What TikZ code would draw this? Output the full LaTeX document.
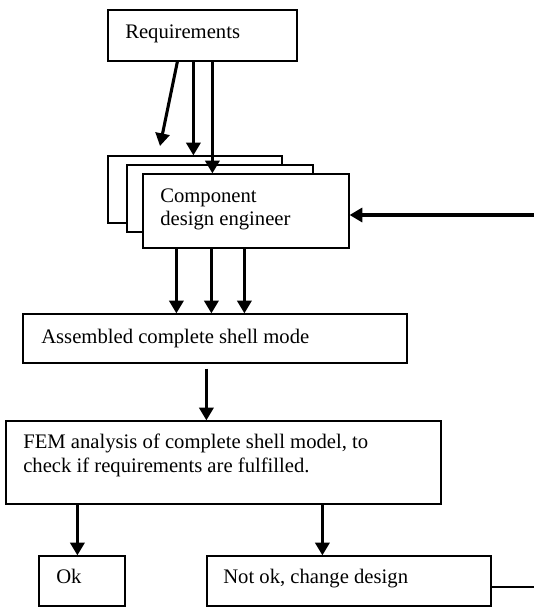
\documentclass[tikz,border=0pt]{standalone}
\usepackage{fontspec}
\setmainfont{Liberation Serif}
\usetikzlibrary{arrows.meta,fit,calc}
\tikzset{
  box/.style={draw=black, line width=0.9pt, fill=white, inner sep=0pt},
  txt/.style={anchor=base west, inner sep=0pt, font=\fontsize{15.5pt}{17.5pt}\selectfont},
  arr/.style={line width=2.3pt, -{Triangle[width=10.5pt,length=9.5pt]}},
  thin/.style={line width=0.9pt}
}
\begin{document}
\begin{tikzpicture}[x=0.75pt,y=-0.75pt]
\useasboundingbox (0,0) rectangle (534,608);

% top box
\node[box, fit={(108,10) (297,61)}] (req) {};
\node[txt] (reqt) at (125,38) {Requirements};

% stacked component boxes
\node[box, fit={(108,156) (282,223)}] (cde1) {};
\node[box, fit={(127,165) (313,232)}] (cde2) {};
\node[box, fit={(143,174) (349,248)}] (cde3) {};
\node[txt] (cdet1) at (160,202) {Component};
\node[txt] (cdet2) at (160,225) {design engineer};

% assembled model
\node[box, fit={(23,314) (407,363)}] (asm) {};
\node[txt] (asmt) at (41,343) {Assembled complete shell mode};

% FEM analysis
\node[box, fit={(6,421) (441,504)}] (fem) {};
\node[txt] (femt1) at (23,448) {FEM analysis of complete shell model, to};
\node[txt] (femt2) at (23,472) {check if requirements are fulfilled.};

% outcomes
\node[box, fit={(39,556) (125,606)}] (ok) {};
\node[txt] (okt) at (56,583) {Ok};
\node[box, fit={(207,556) (491,606)}] (nok) {};
\node[txt] (nokt) at (223,583) {Not ok, change design};

% free ends
\coordinate (diagend) at (160,146);
\coordinate (fbin) at (534,215);
\coordinate (fbout) at (534,587);

% requirements to component engineers
\draw[arr] ($(req.south west)+(70,0)$) -- (diagend);
\draw[arr] ($(req.south west)+(86,0)$) -- ($(cde1.north west)+(86,0)$);
\draw[arr] ($(req.south west)+(105,0)$) -- ($(cde3.north west)+(70,0)$);

% feedback into the component engineer
\draw[arr] (fbin) -- (fbin -| cde3.east);

% engineers to assembled model
\draw[arr] ($(cde3.south west)+(34,0)$) -- ($(asm.north west)+(154,0)$);
\draw[arr] ($(cde3.south west)+(69,0)$) -- ($(asm.north west)+(189,0)$);
\draw[arr] ($(cde3.south west)+(102,0)$) -- ($(asm.north west)+(222,0)$);

% assembled model to FEM analysis
\draw[arr] ($(asm.south west)+(184,5)$) -- ($(fem.north west)+(201,0)$);

% FEM analysis to outcomes
\draw[arr] ($(fem.south west)+(72,0)$) -- ($(ok.north west)+(39,0)$);
\draw[arr] ($(fem.south west)+(317,0)$) -- ($(nok.north west)+(116,0)$);

% loop back line
\draw[thin] (fbout -| nok.east) -- (fbout);
\end{tikzpicture}
\end{document}
